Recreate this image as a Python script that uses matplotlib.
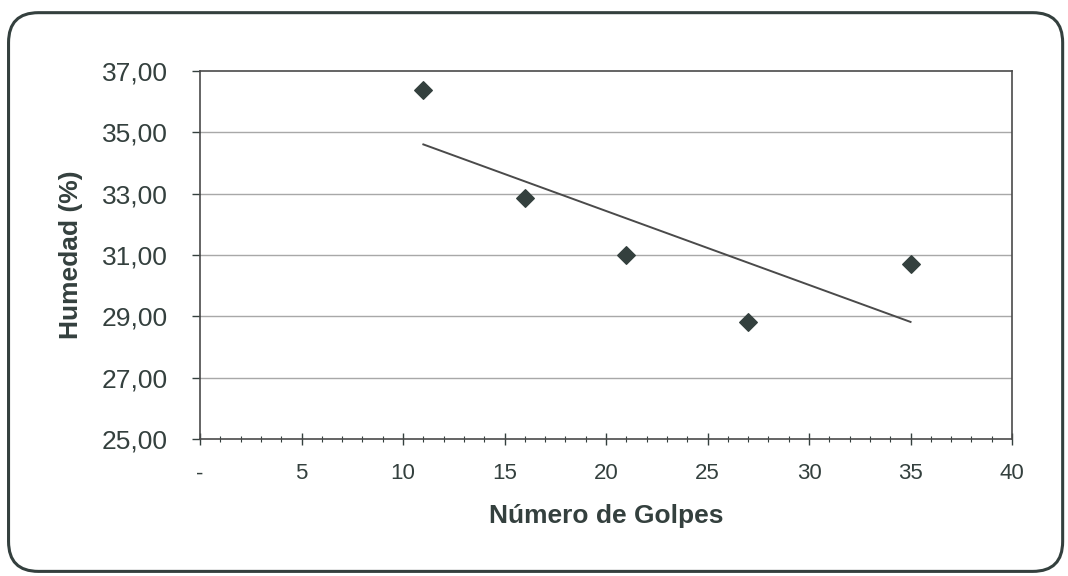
import numpy as np
import matplotlib.pyplot as plt
from matplotlib.patches import FancyBboxPatch
from matplotlib.ticker import MultipleLocator, FuncFormatter

# datos: numero de golpes vs humedad
golpes = [11, 16, 21, 27, 35]
humedad = [36.38, 32.85, 31.00, 28.83, 30.71]

x_ticks = [0, 5, 10, 15, 20, 25, 30, 35, 40]
y_ticks = [25, 27, 29, 31, 33, 35, 37]

plt.rcParams['font.family'] = ['Liberation Sans', 'DejaVu Sans']
ink = '#34403e'

fig = plt.figure(figsize=(10.68, 5.76), dpi=100)
ax = fig.add_axes([0.1873, 0.2378, 0.7603, 0.6389])

# outer rounded frame
frame = FancyBboxPatch((0.008, 0.008), 0.987, 0.97,
                       boxstyle="round,pad=0,rounding_size=0.028",
                       transform=fig.transFigure, fill=False,
                       edgecolor=ink, linewidth=2.2, mutation_aspect=1068 / 576)
fig.patches.append(frame)

# grid lines
for yv in y_ticks[1:-1]:
    ax.axhline(yv, color='#a8a8a8', linewidth=1.0, zorder=1)

ax.scatter(golpes, humedad, marker='D', s=80, color=ink, zorder=3)

# linea de tendencia (ajuste lineal)
m, b = np.polyfit(golpes, humedad, 1)
xt = np.array([min(golpes), max(golpes)])
ax.plot(xt, m * xt + b, color='#4a4a4a', linewidth=1.4, zorder=2)

ax.set_xlim(0, 40)
ax.set_ylim(25, 37)
ax.set_xticks(x_ticks)
ax.set_yticks(y_ticks)
ax.xaxis.set_minor_locator(MultipleLocator(1))
ax.xaxis.set_major_formatter(FuncFormatter(lambda v, p: '-' if v == 0 else '%d' % v))
ax.yaxis.set_major_formatter(FuncFormatter(lambda v, p: ('%.2f' % v).replace('.', ',')))

ax.tick_params(axis='x', which='major', direction='inout', length=9, width=1,
               labelsize=16, colors=ink, pad=13)
ax.tick_params(axis='x', which='minor', direction='inout', length=4, width=0.8, colors=ink)
ax.tick_params(axis='y', which='major', direction='out', length=6, width=1,
               labelsize=19, colors=ink, pad=17)

for sp in ax.spines.values():
    sp.set_color('#4a4a4a')
    sp.set_linewidth(1.2)

ax.set_xlabel('Número de Golpes', fontsize=19, fontweight='bold', color=ink, labelpad=14)
ax.set_ylabel('Humedad (%)', fontsize=19, fontweight='bold', color=ink, labelpad=14)

fig.savefig('out.png', dpi=100)
